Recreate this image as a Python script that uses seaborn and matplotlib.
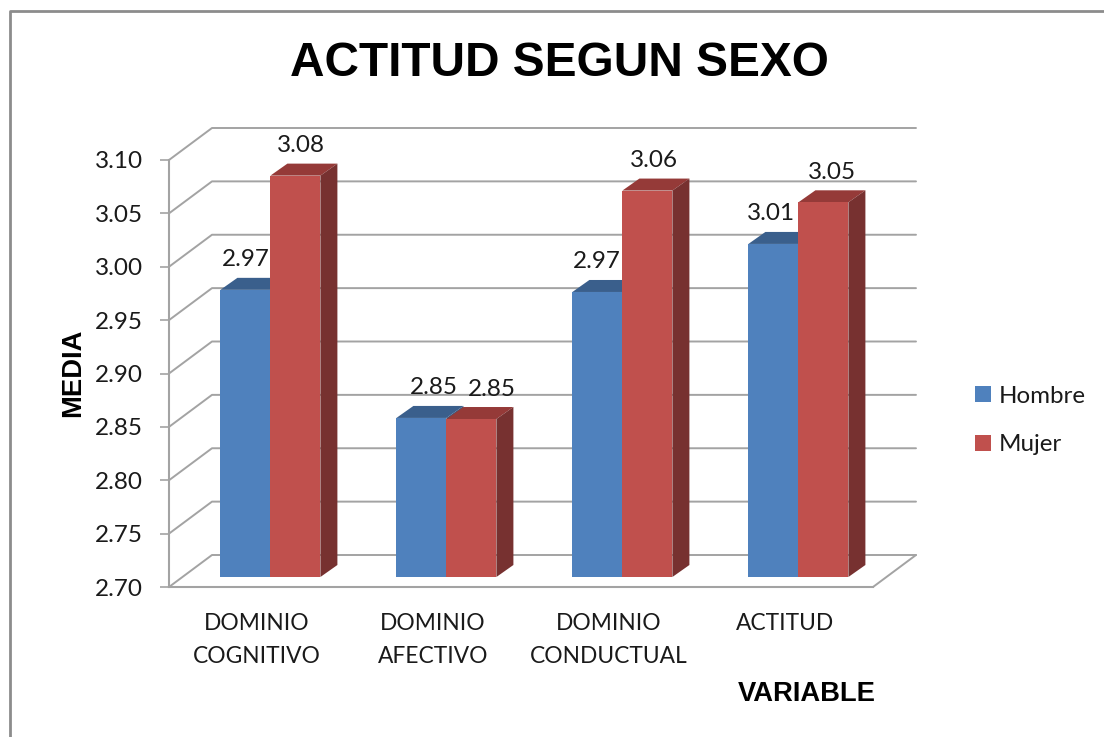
import matplotlib
matplotlib.use('Agg')
import matplotlib.pyplot as plt
import pandas as pd
import seaborn as sns
from matplotlib.lines import Line2D
from matplotlib.patches import Polygon

categories = ['DOMINIO\nCOGNITIVO', 'DOMINIO\nAFECTIVO', 'DOMINIO\nCONDUCTUAL', 'ACTITUD']
hombre = [2.969, 2.849, 2.967, 3.012]
mujer = [3.076, 2.848, 3.062, 3.051]
y_ticks = [2.70, 2.75, 2.80, 2.85, 2.90, 2.95, 3.00, 3.05, 3.10]

W, H = 1104, 737
LEFT, RIGHT, TOP, BOTTOM = 169, 873, 160, 587
GRID = '#a3a3a3'
TEXT = '#1a1a1a'

sns.set_theme(style='white')
plt.rcParams['font.family'] = ['Lato', 'DejaVu Sans']

fig = plt.figure(figsize=(W / 100, H / 100), dpi=100)
ax = fig.add_axes([LEFT / W, 1 - BOTTOM / H, (RIGHT - LEFT) / W, (BOTTOM - TOP) / H])

df = pd.DataFrame({
    'categoria': categories * 2,
    'sexo': ['Hombre'] * 4 + ['Mujer'] * 4,
    'media': hombre + mujer,
})
sns.barplot(data=df, x='categoria', y='media', hue='sexo', ax=ax, errorbar=None,
            palette=['#4f81bd', '#c0504d'], saturation=1, width=100 / 176, gap=0, linewidth=0)
ax.set_xlim(-0.5, 3.5)
ax.set_ylim(2.70, 3.10)

# pixels to data units, the chart fakes excel's 3d look
x_px = 4 / (RIGHT - LEFT)
y_px = 0.4 / (BOTTOM - TOP)

# back wall and side lines
for t in y_ticks:
    ax.plot([-0.5, -0.5 + 43 * x_px, 3.5 + 43 * x_px],
            [t, t + 32 * y_px, t + 32 * y_px],
            color=GRID, lw=1.4, clip_on=False, zorder=0.5)
ax.plot([3.5, 3.5 + 43 * x_px], [2.70, 2.70 + 32 * y_px], color=GRID, lw=1.4, clip_on=False, zorder=0.5)

# move the bars onto the floor and add top and side faces
bars = [b for b in ax.patches if b.get_height() > 0]
shades = {0: ('#3a5f8c', '#38587f'), 1: ('#953a38', '#773130')}
for i, b in enumerate(bars):
    x0 = b.get_x() + 13.4 * x_px
    w = b.get_width()
    v = b.get_height()
    base = 2.70 + 10 * y_px
    top = v + 10 * y_px
    b.set_x(x0)
    b.set_y(base)
    b.set_height(v - 2.70)
    b.set_clip_on(False)
    z = 3 + i % 4 * 0.1 + (i // 4) * 0.02
    b.set_zorder(z + 0.01)
    dx, dy = 17 * x_px, 12 * y_px
    top_c, side_c = shades[i // 4]
    ax.add_patch(Polygon([(x0, top), (x0 + dx, top + dy), (x0 + w + dx, top + dy), (x0 + w, top)],
                         facecolor=top_c, edgecolor='none', clip_on=False, zorder=z))
    ax.add_patch(Polygon([(x0 + w, base), (x0 + w + dx, base + dy), (x0 + w + dx, top + dy), (x0 + w, top)],
                         facecolor=side_c, edgecolor='none', clip_on=False, zorder=z))

# value labels
nudges = [0, 12, -1, -2, 6, 20, 7, 9]
for b, n in zip(bars, nudges):
    ax.annotate(f'{b.get_height() + 2.70:.2f}', (b.get_x() + b.get_width() / 2, b.get_y() + b.get_height()),
                xytext=(n, 30), textcoords='offset pixels', ha='center', va='center',
                fontsize=17.5, color=TEXT, zorder=6, annotation_clip=False)

ax.set_yticks(y_ticks)
ax.set_yticklabels([f'{t:.2f}' for t in y_ticks])
ax.tick_params(axis='y', left=True, length=6.5, width=1.2, color=GRID, pad=12, labelsize=17.5, labelcolor=TEXT)
ax.tick_params(axis='x', bottom=False, pad=13, labelsize=16.4, labelcolor=TEXT)
for lab in ax.get_xticklabels():
    lab.set_linespacing(1.68)
for s in ['top', 'right']:
    ax.spines[s].set_visible(False)
for s in ['left', 'bottom']:
    ax.spines[s].set_color(GRID)
    ax.spines[s].set_linewidth(1.5)

ax.set_xlabel('VARIABLE', family='Liberation Sans', fontweight='bold', fontsize=19.7, color='black')
ax.xaxis.set_label_coords((807 - LEFT) / (RIGHT - LEFT), (BOTTOM - 694) / (BOTTOM - TOP))
ax.xaxis.label.set_va('center')
ax.set_ylabel('MEDIA', family='Liberation Sans', fontweight='bold', fontsize=19.7, color='black')
ax.yaxis.set_label_coords((73 - LEFT) / (RIGHT - LEFT), (BOTTOM - 373) / (BOTTOM - TOP))
ax.yaxis.label.set_va('center')

sns.move_legend(ax, 'center left', bbox_to_anchor=(975 / W, 1 - 420.5 / H), bbox_transform=fig.transFigure,
                title=None, frameon=False, fontsize=17.4, handlelength=0.65, handleheight=0.65,
                labelspacing=1.15, handletextpad=0.35, labelcolor=TEXT, borderpad=0, borderaxespad=0)

fig.text(559 / W, 1 - 63 / H, 'ACTITUD SEGUN SEXO', family='Liberation Sans', fontweight='bold',
         fontsize=34.4, color='black', ha='center', va='center')

# chart frame, cut off by the screenshot at right and bottom
fig.add_artist(Line2D([9.5 / W, 9.5 / W, 1], [0, 1 - 11 / H, 1 - 11 / H], color='#8c8c8c', lw=2))

fig.savefig('out.png', dpi=100)
